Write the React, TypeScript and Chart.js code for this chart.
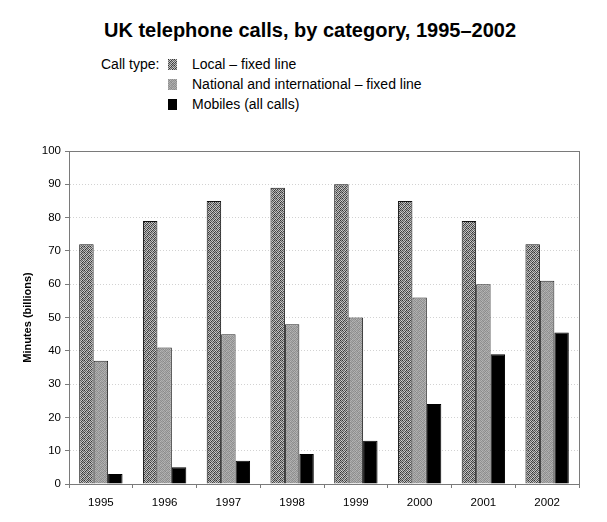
import { useEffect, useRef, useState } from "react";
import Chart from "chart.js/auto";

const years = ["1995", "1996", "1997", "1998", "1999", "2000", "2001", "2002"];
const localFixed = [72, 79, 85, 89, 90, 85, 79, 72];
const nationalFixed = [37, 41, 45, 48, 50, 56, 60, 61];
const mobiles = [3, 5, 7, 9, 13, 24, 39, 45.5];
const seriesNames = [
  "Local – fixed line",
  "National and international – fixed line",
  "Mobiles (all calls)",
];

const FONT = "'Liberation Sans', Arial, Helvetica, sans-serif";

// small grey tiles to imitate the printed stipple
const localTile = [
  [0x30, 0xc8, 0x60, 0xb8, 0x40, 0xa0],
  [0xb0, 0x58, 0xd0, 0x38, 0xc0, 0x68],
  [0x68, 0xc0, 0x40, 0xa8, 0x58, 0xd0],
  [0xc8, 0x38, 0xb0, 0x60, 0xc8, 0x40],
  [0x50, 0xa8, 0x68, 0xd0, 0x30, 0xb8],
  [0xb8, 0x60, 0xc0, 0x48, 0xa8, 0x58],
];
const nationalTile = [
  [0x90, 0xb0, 0x98, 0xa8, 0x8c, 0xb4],
  [0xa8, 0x88, 0xb8, 0x94, 0xac, 0x90],
  [0x98, 0xb4, 0x8c, 0xa4, 0x94, 0xb0],
  [0xb0, 0x94, 0xa8, 0x88, 0xb8, 0x98],
  [0x8c, 0xac, 0x98, 0xb4, 0x90, 0xa4],
  [0xb4, 0x90, 0xb0, 0x94, 0xa8, 0x8c],
];

const makeTile = (cells: number[][]) => {
  const c = document.createElement("canvas");
  c.width = cells[0].length;
  c.height = cells.length;
  const g = c.getContext("2d")!;
  cells.forEach((row, y) =>
    row.forEach((v, x) => {
      g.fillStyle = `rgb(${v},${v},${v})`;
      g.fillRect(x, y, 1, 1);
    })
  );
  return c;
};

const frame = {
  id: "frame",
  afterDatasetsDraw(chart: any) {
    const { ctx, chartArea } = chart;
    ctx.save();
    ctx.strokeStyle = "#7a7a7a";
    ctx.lineWidth = 1;
    ctx.strokeRect(
      Math.round(chartArea.left) + 0.5,
      Math.round(chartArea.top) + 0.5,
      Math.round(chartArea.right - chartArea.left),
      Math.round(chartArea.bottom - chartArea.top)
    );
    ctx.restore();
  },
};

const App = () => {
  const canvasRef = useRef<HTMLCanvasElement | null>(null);
  const [swatches, setSwatches] = useState<string[]>(["", "", ""]);

  useEffect(() => {
    if (!canvasRef.current) return;
    const ctx = canvasRef.current.getContext("2d");
    if (!ctx) return;

    const lt = makeTile(localTile);
    const nt = makeTile(nationalTile);
    const localPattern = ctx.createPattern(lt, "repeat")!;
    const nationalPattern = ctx.createPattern(nt, "repeat")!;
    setSwatches([lt.toDataURL(), nt.toDataURL(), ""]);

    const chart = new Chart(ctx, {
      type: "bar",
      data: {
        labels: years,
        datasets: [
          {
            label: seriesNames[0],
            data: localFixed,
            backgroundColor: localPattern,
            borderColor: "#111",
            borderWidth: 1,
          },
          {
            label: seriesNames[1],
            data: nationalFixed,
            backgroundColor: nationalPattern,
            borderColor: "#222",
            borderWidth: 1,
          },
          {
            label: seriesNames[2],
            data: mobiles,
            backgroundColor: "#000000",
            borderColor: "#000000",
            borderWidth: 1,
          },
        ],
      },
      options: {
        responsive: false,
        animation: false,
        layout: { padding: { top: 151, right: 28, left: 0, bottom: 0 } },
        datasets: {
          bar: { categoryPercentage: 0.68, barPercentage: 1 },
        },
        plugins: {
          legend: { display: false },
          tooltip: { enabled: false },
        },
        scales: {
          x: {
            afterFit: (scale: any) => {
              scale.height = 38;
            },
            grid: {
              offset: true,
              drawOnChartArea: false,
              drawTicks: true,
              tickLength: 4,
              color: "#7a7a7a",
            },
            border: { color: "#7a7a7a" },
            ticks: {
              color: "#000",
              padding: 8,
              font: { family: FONT, size: 11.5 },
            },
          },
          y: {
            min: 0,
            max: 100,
            afterFit: (scale: any) => {
              scale.width = 69;
            },
            grid: {
              color: "#d2d2d2",
              tickColor: "#7a7a7a",
              tickLength: 4,
            },
            border: { color: "#7a7a7a", dash: [1, 2] },
            ticks: {
              stepSize: 10,
              color: "#000",
              padding: 4,
              font: { family: FONT, size: 11.5 },
            },
            title: {
              display: true,
              text: "Minutes (billions)",
              color: "#000",
              padding: { top: 21, bottom: 0 },
              font: { family: FONT, size: 11, weight: "bold" },
            },
          },
        },
      },
      plugins: [frame],
    });

    return () => {
      chart.destroy();
    };
  }, []);

  const swatchBg = (i: number) =>
    i === 2
      ? { background: "#000" }
      : {
          backgroundImage: swatches[i] ? `url(${swatches[i]})` : undefined,
          imageRendering: "pixelated" as const,
        };

  return (
    <div
      style={{
        position: "absolute",
        left: 0,
        top: 0,
        width: 607,
        height: 522,
        background: "#fff",
        fontFamily: FONT,
        color: "#000",
      }}
    >
      <div
        style={{
          position: "absolute",
          left: 0,
          top: 18,
          width: 620,
          textAlign: "center",
          fontSize: 20,
          fontWeight: "bold",
          lineHeight: "24px",
        }}
      >
        UK telephone calls, by category, 1995–2002
      </div>
      <div
        style={{
          position: "absolute",
          left: 101,
          top: 54,
          fontSize: 14,
          lineHeight: "20px",
        }}
      >
        Call type:
      </div>
      {seriesNames.map((name, i) => (
        <div
          key={name}
          style={{
            position: "absolute",
            left: 168,
            top: 54 + i * 20,
            height: 20,
            display: "flex",
            alignItems: "center",
            fontSize: 14,
            lineHeight: "20px",
            whiteSpace: "nowrap",
          }}
        >
          <span
            style={{
              display: "inline-block",
              width: 9,
              height: 11,
              marginRight: 15,
              ...swatchBg(i),
            }}
          />
          {name}
        </div>
      ))}
      <canvas ref={canvasRef} width={607} height={522} style={{ position: "absolute", left: 0, top: 0 }} />
    </div>
  );
};

export default App;
